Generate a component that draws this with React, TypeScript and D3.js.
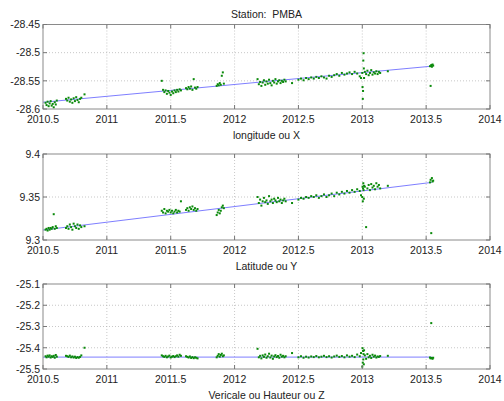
import React from 'react';
import * as d3 from 'd3';

// epochs (decimal years)
const t = [
  2010.520, 2010.528, 2010.536, 2010.544, 2010.552, 2010.560, 2010.568, 2010.576, 2010.584, 2010.592, 2010.600, 2010.608,
  2010.680, 2010.690, 2010.700, 2010.710, 2010.720, 2010.730, 2010.740, 2010.750, 2010.760, 2010.770, 2010.780, 2010.790, 2010.800, 2010.825,
  2011.430, 2011.440, 2011.450, 2011.460, 2011.470, 2011.480, 2011.490, 2011.500, 2011.510, 2011.520, 2011.530, 2011.540, 2011.550, 2011.560, 2011.570, 2011.580,
  2011.620, 2011.630, 2011.640, 2011.650, 2011.660, 2011.670, 2011.680, 2011.690, 2011.700, 2011.710,
  2011.860, 2011.868, 2011.876, 2011.884, 2011.892, 2011.900, 2011.908, 2011.916,
  2012.180, 2012.190, 2012.200, 2012.210, 2012.220, 2012.230, 2012.240, 2012.250, 2012.260, 2012.270, 2012.280, 2012.290, 2012.300, 2012.310, 2012.320, 2012.330, 2012.340, 2012.350, 2012.360, 2012.370, 2012.380, 2012.390, 2012.400, 2012.450,
  2012.500, 2012.520, 2012.540, 2012.560, 2012.580, 2012.600, 2012.620, 2012.640, 2012.660, 2012.680, 2012.700, 2012.720, 2012.740, 2012.760, 2012.780, 2012.800, 2012.820, 2012.840, 2012.860, 2012.880, 2012.900, 2012.920, 2012.940, 2012.960, 2012.980, 2012.990,
  2013.000, 2013.002, 2013.004, 2013.006, 2013.008, 2013.010, 2013.012, 2013.014,
  2013.020, 2013.030, 2013.040, 2013.050, 2013.060, 2013.070, 2013.080, 2013.090, 2013.100, 2013.110, 2013.120, 2013.130, 2013.140, 2013.200,
  2013.530, 2013.535, 2013.540, 2013.545, 2013.550, 2013.555,
];

const lon = [
  -28.589, -28.593, -28.587, -28.595, -28.590, -28.586, -28.594, -28.591, -28.597, -28.588, -28.592, -28.585,
  -28.582, -28.585, -28.580, -28.587, -28.583, -28.589, -28.581, -28.586, -28.579, -28.584, -28.588, -28.582, -28.580, -28.574,
  -28.550, -28.566, -28.570, -28.567, -28.573, -28.568, -28.571, -28.575, -28.569, -28.572, -28.567, -28.570, -28.566, -28.569, -28.565, -28.567,
  -28.563, -28.565, -28.561, -28.564, -28.560, -28.566, -28.547, -28.562, -28.564, -28.561,
  -28.559, -28.556, -28.558, -28.554, -28.557, -28.541, -28.535, -28.555,
  -28.547, -28.556, -28.552, -28.559, -28.553, -28.549, -28.557, -28.551, -28.555, -28.548, -28.554, -28.558, -28.550, -28.553, -28.547, -28.555, -28.551, -28.549, -28.554, -28.550, -28.552, -28.548, -28.551, -28.554,
  -28.548, -28.546, -28.549, -28.545, -28.547, -28.544, -28.546, -28.543, -28.545, -28.542, -28.544, -28.546, -28.541, -28.543, -28.540, -28.538, -28.541, -28.536, -28.539, -28.537, -28.535, -28.538, -28.534, -28.537, -28.542, -28.545,
  -28.536, -28.561, -28.582, -28.568, -28.514, -28.501, -28.528, -28.545,
  -28.534, -28.538, -28.532, -28.540, -28.536, -28.531, -28.539, -28.535, -28.537, -28.533, -28.538, -28.534, -28.536, -28.533,
  -28.524, -28.559, -28.522, -28.525, -28.521, -28.523,
];

const lat = [
  9.312, 9.313, 9.311, 9.314, 9.312, 9.314, 9.313, 9.315, 9.330, 9.313, 9.316, 9.314,
  9.314, 9.316, 9.313, 9.318, 9.315, 9.312, 9.319, 9.316, 9.314, 9.318, 9.313, 9.317, 9.315, 9.316,
  9.334, 9.332, 9.336, 9.331, 9.334, 9.333, 9.335, 9.332, 9.334, 9.331, 9.333, 9.335, 9.332, 9.334, 9.333, 9.345,
  9.335, 9.337, 9.334, 9.338, 9.336, 9.339, 9.335, 9.337, 9.334, 9.336,
  9.329, 9.332, 9.335, 9.331, 9.334, 9.338, 9.340, 9.337,
  9.350, 9.343, 9.347, 9.340, 9.345, 9.349, 9.344, 9.346, 9.342, 9.351, 9.345, 9.347, 9.343, 9.348, 9.346, 9.344, 9.349, 9.345, 9.347, 9.343, 9.346, 9.348, 9.345, 9.343,
  9.347, 9.349, 9.348, 9.350, 9.349, 9.351, 9.350, 9.352, 9.349, 9.351, 9.353, 9.350, 9.352, 9.354, 9.351, 9.355, 9.353, 9.356, 9.354, 9.357, 9.355, 9.358, 9.356, 9.359, 9.357, 9.352,
  9.350, 9.362, 9.345, 9.360, 9.366, 9.358, 9.348, 9.363,
  9.362, 9.315, 9.360, 9.364, 9.358, 9.365, 9.361, 9.363, 9.359, 9.366, 9.362, 9.364, 9.360, 9.363,
  9.367, 9.370, 9.308, 9.372, 9.368, 9.369,
];

const up = [
  -25.440, -25.445, -25.437, -25.442, -25.436, -25.446, -25.440, -25.443, -25.438, -25.447, -25.434, -25.442,
  -25.438, -25.440, -25.443, -25.437, -25.445, -25.441, -25.446, -25.442, -25.448, -25.444, -25.447, -25.443, -25.436, -25.400,
  -25.436, -25.440, -25.443, -25.438, -25.445, -25.441, -25.437, -25.446, -25.442, -25.439, -25.444, -25.440, -25.436, -25.442, -25.433, -25.438,
  -25.440, -25.443, -25.446, -25.441, -25.448, -25.444, -25.449, -25.445, -25.447, -25.450,
  -25.445, -25.438, -25.430, -25.442, -25.434, -25.428, -25.440, -25.436,
  -25.405, -25.445, -25.438, -25.450, -25.436, -25.443, -25.432, -25.447, -25.440, -25.428, -25.446, -25.437, -25.452, -25.441, -25.435, -25.444, -25.439, -25.447, -25.433, -25.442, -25.438, -25.445, -25.440, -25.425,
  -25.445, -25.440, -25.447, -25.442, -25.446, -25.441, -25.444, -25.439, -25.445, -25.442, -25.438, -25.444, -25.440, -25.446, -25.441, -25.437, -25.443, -25.439, -25.445, -25.436, -25.442, -25.438, -25.444, -25.432, -25.440, -25.425,
  -25.489, -25.402, -25.470, -25.415, -25.455, -25.430, -25.478, -25.412,
  -25.436, -25.452, -25.430, -25.445, -25.438, -25.448, -25.433, -25.442, -25.437, -25.446, -25.441, -25.443, -25.439, -25.438,
  -25.446, -25.450, -25.284, -25.448, -25.452, -25.447,
];

// linear trend, start and end
const fitT = [2010.5, 2013.545];
const fitLon = [-28.588, -28.524];
const fitLat = [9.3116, 9.367];
const fitUp = [-25.444, -25.444];

const xTicks = [2010.5, 2011, 2011.5, 2012, 2012.5, 2013, 2013.5, 2014];

const panels = [
  { label: 'longitude ou X', values: lon, fit: fitLon, domain: [-28.6, -28.45], ticks: [-28.6, -28.55, -28.5, -28.45], top: 24.5, height: 84.5 },
  { label: 'Latitude ou Y', values: lat, fit: fitLat, domain: [9.3, 9.4], ticks: [9.3, 9.35, 9.4], top: 154, height: 86 },
  { label: 'Vericale ou Hauteur ou Z', values: up, fit: fitUp, domain: [-25.5, -25.1], ticks: [-25.5, -25.4, -25.3, -25.2, -25.1], top: 284, height: 85 },
];

const width = 504, height = 401;
const left = 43, right = 490;
const font = '"Liberation Sans", Arial, Helvetica, sans-serif';

const Panel = ({ p }: { p: typeof panels[number] }) => {
  const x = d3.scaleLinear().domain([2010.5, 2014]).range([left, right]);
  const y = d3.scaleLinear().domain(p.domain).range([p.top + p.height, p.top]);
  const bottom = p.top + p.height;
  const line = d3.line<number>().x((d, i) => x(fitT[i])).y(d => y(d));
  const tl = 4;

  return (
    <g>
      {xTicks.slice(1, -1).map(v => (
        <line key={'gx' + v} x1={x(v)} x2={x(v)} y1={p.top} y2={bottom} stroke="#b0b0b0" strokeWidth={0.7} strokeDasharray="1,2" />
      ))}
      {p.ticks.slice(1, -1).map(v => (
        <line key={'gy' + v} x1={left} x2={right} y1={y(v)} y2={y(v)} stroke="#b0b0b0" strokeWidth={0.7} strokeDasharray="1,2" />
      ))}
      <path d={line(p.fit) || ''} fill="none" stroke="#6f6fff" strokeWidth={0.9} />
      {t.map((d, i) => (
        <rect key={i} x={x(d) - 1} y={y(p.values[i]) - 1} width={2} height={2} fill="#0b8a0b" />
      ))}
      <rect x={left} y={p.top} width={right - left} height={p.height} fill="none" stroke="#8a8a8a" strokeWidth={1} />
      {xTicks.map(v => (
        <g key={'tx' + v}>
          <line x1={x(v)} x2={x(v)} y1={bottom} y2={bottom - tl} stroke="#777" />
          <line x1={x(v)} x2={x(v)} y1={p.top} y2={p.top + tl} stroke="#777" />
          <text x={x(v)} y={bottom + 13.5} textAnchor="middle" fontSize={10.5} fontFamily={font} fill="#222">{v}</text>
        </g>
      ))}
      {p.ticks.map(v => (
        <g key={'ty' + v}>
          <line x1={left} x2={left + tl} y1={y(v)} y2={y(v)} stroke="#777" />
          <line x1={right} x2={right - tl} y1={y(v)} y2={y(v)} stroke="#777" />
          <text x={40} y={y(v) + 3.8} textAnchor="end" fontSize={10.5} fontFamily={font} fill="#222">{v}</text>
        </g>
      ))}
      <text x={(left + right) / 2} y={bottom + 29.5} textAnchor="middle" fontSize={10.5} fontFamily={font} fill="#222">{p.label}</text>
    </g>
  );
};

export default function App() {
  return (
    <svg width={width} height={height} style={{ position: 'absolute', left: 0, top: 0, background: '#fff' }}>
      <text x={(left + right) / 2} y={18} textAnchor="middle" fontSize={10.5} fontFamily={font} fill="#222" style={{ whiteSpace: 'pre' }}>
        Station:  PMBA
      </text>
      {panels.map(p => <Panel key={p.label} p={p} />)}
    </svg>
  );
}
